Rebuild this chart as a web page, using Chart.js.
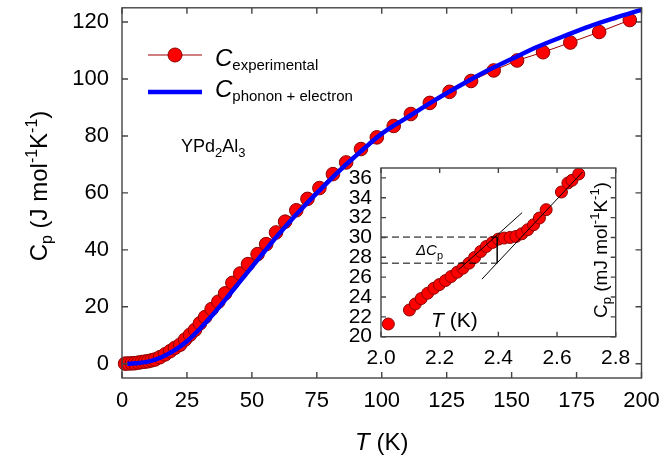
<!DOCTYPE html>
<html>
<head>
<meta charset="utf-8">
<script src="https://cdn.jsdelivr.net/npm/chart.js@4"></script>
<style>
  html, body { margin: 0; padding: 0; background: #fff; }
  #wrap { position: relative; width: 661px; height: 463px; overflow: hidden; }
  #wrap canvas { position: absolute; left: 0; top: 0; }
</style>
</head>
<body>
<div id="wrap">
  <canvas id="main-chart" width="661" height="463"></canvas>
  <canvas id="inset-chart" width="661" height="463"></canvas>
</div>
<script>
// Cp de YPd2Al3: datos experimentales + modelo fonón/electrón, con recuadro a baja T
const FONT = "'Liberation Sans', Arial, sans-serif";

// curva principal (J mol-1 K-1)
const expT = [1.2, 2.5, 3.8, 5, 6.3, 7.6, 8.9, 10.1, 11.4, 12.7, 14.6, 16.6, 18.5, 20.4, 22.4, 24.3,
  26.2, 28.1, 30, 32, 34.5, 37.1, 39.7, 42.5, 45.5, 48.5, 52.2, 55.5, 59.3, 62.8, 67.1, 71.4, 76,
  81.2, 86.3, 92, 98.1, 104.6, 111.2, 118.5, 126.1, 134.4, 143.1, 152.1, 162.1, 172.6, 183.7, 195.5];
const expC = [0.05, 0.1, 0.15, 0.2, 0.4, 0.6, 0.75, 0.9, 1.2, 1.5, 2.3, 3.3, 4.4, 5.6, 6.7, 8.5,
  10.2, 11.9, 14.2, 16.4, 19.2, 21.8, 24.7, 28.4, 31.7, 35, 38.5, 42, 46.1, 49.9, 53.9, 57.9, 61.7,
  66.6, 70.7, 75.4, 79.5, 83.5, 87.7, 91.6, 95.5, 99.3, 103, 106.5, 109.4, 112.8, 116.5, 120.7];

const modelT = [2, 5, 10, 15, 20, 25, 30, 35, 40, 45, 50, 55, 60, 65, 70, 75, 80, 85, 90, 95, 100,
  110, 120, 130, 140, 150, 160, 170, 180, 190, 200];
const modelC = [0, 0.15, 0.75, 2.2, 4.6, 7.9, 12.3, 17.3, 22.8, 28.4, 34.0, 39.6, 45.1, 50.3, 55.2,
  59.9, 64.5, 68.9, 73, 77, 80.8, 86.6, 92.3, 97.6, 102.6, 107, 111.3, 115, 118.5, 121.5, 124.3];

const xTicks = [0, 25, 50, 75, 100, 125, 150, 175, 200];
const yTicks = [0, 20, 40, 60, 80, 100, 120];

// recuadro (mJ mol-1 K-1)
const insetT = [2.025, 2.097, 2.117, 2.137, 2.159, 2.18, 2.199, 2.22, 2.239, 2.26, 2.279, 2.3, 2.319,
  2.34, 2.359, 2.38, 2.4, 2.42, 2.44, 2.46, 2.48, 2.5, 2.52, 2.54, 2.563, 2.615, 2.637, 2.651, 2.674];
const insetC = [21.28, 22.69, 23.3, 23.84, 24.38, 24.88, 25.25, 25.66, 26.06, 26.5, 26.9, 27.41, 27.98,
  28.59, 29.09, 29.5, 29.83, 29.94, 30.0, 30.1, 30.37, 30.78, 31.28, 31.96, 32.8, 34.58, 35.49, 35.76, 36.4];
const tangentLowT = [2.264, 2.481];
const tangentLowC = [26.74, 32.5];
const tangentHighT = [2.344, 2.686];
const tangentHighC = [25.8, 36.57];
const jumpT = 2.396;
const jumpTop = 30.04;
const jumpBottom = 27.41;
const insetXTicks = [2.0, 2.2, 2.4, 2.6, 2.8];
const insetYTicks = [20, 22, 24, 26, 28, 30, 32, 34, 36];

const pts = (xs, ys) => xs.map((x, i) => ({ x: x, y: ys[i] }));

function drawRich(ctx, parts, x, y, align) {
  let w = 0;
  parts.forEach(p => {
    ctx.font = (p.it ? 'italic ' : '') + p.size + 'px ' + FONT;
    p.w = ctx.measureText(p.t).width;
    w += p.w;
  });
  let cx = align === 'center' ? x - w / 2 : x;
  ctx.textBaseline = 'alphabetic';
  ctx.textAlign = 'left';
  parts.forEach(p => {
    ctx.font = (p.it ? 'italic ' : '') + p.size + 'px ' + FONT;
    ctx.fillText(p.t, cx, y + (p.dy || 0));
    cx += p.w;
  });
}

function drawFrame(chart, tickLen) {
  const { ctx, chartArea: a, scales } = chart;
  ctx.save();
  ctx.strokeStyle = '#444';
  ctx.lineWidth = 1.4;
  ctx.strokeRect(a.left, a.top, a.right - a.left, a.bottom - a.top);
  ctx.beginPath();
  scales.x.ticks.forEach(t => {
    const px = scales.x.getPixelForValue(t.value);
    ctx.moveTo(px, a.bottom); ctx.lineTo(px, a.bottom - tickLen);
    ctx.moveTo(px, a.top); ctx.lineTo(px, a.top + tickLen);
  });
  scales.y.ticks.forEach(t => {
    const py = scales.y.getPixelForValue(t.value);
    ctx.moveTo(a.left, py); ctx.lineTo(a.left + tickLen, py);
    ctx.moveTo(a.right, py); ctx.lineTo(a.right - tickLen, py);
  });
  ctx.stroke();
  ctx.restore();
}

// que las etiquetas de los extremos no encojan el area del grafico
const noEdgePad = s => { s.paddingLeft = 0; s.paddingRight = 0; };

const mainDecor = {
  id: 'mainDecor',
  afterDraw(chart) {
    const { ctx, chartArea: a } = chart;
    drawFrame(chart, 6);
    ctx.save();
    ctx.fillStyle = '#000';
    // titulo eje x
    drawRich(ctx, [{ t: 'T', size: 24, it: true }, { t: ' (K)', size: 24 }], (a.left + a.right) / 2, 450, 'center');
    // titulo eje y (rotado)
    ctx.save();
    ctx.translate(47, 186);
    ctx.rotate(-Math.PI / 2);
    drawRich(ctx, [
      { t: 'C', size: 24 }, { t: 'p', size: 16, dy: 5 },
      { t: ' (J mol', size: 24 }, { t: '-1', size: 16, dy: -10 },
      { t: 'K', size: 24 }, { t: '-1', size: 16, dy: -10 },
      { t: ')', size: 24 }
    ], 0, 0, 'center');
    ctx.restore();
    // leyenda
    ctx.strokeStyle = '#a00000';
    ctx.lineWidth = 1.2;
    ctx.beginPath(); ctx.moveTo(148, 55); ctx.lineTo(202, 55); ctx.stroke();
    ctx.beginPath(); ctx.arc(175, 55, 7, 0, Math.PI * 2);
    ctx.fillStyle = '#ff0000'; ctx.fill();
    ctx.strokeStyle = '#8b0000'; ctx.lineWidth = 1; ctx.stroke();
    ctx.strokeStyle = '#0000ff';
    ctx.lineWidth = 4.5;
    ctx.beginPath(); ctx.moveTo(148, 92); ctx.lineTo(202, 92); ctx.stroke();
    ctx.fillStyle = '#000';
    drawRich(ctx, [{ t: 'C', size: 24, it: true }, { t: 'experimental', size: 15, dy: 4 }], 215, 66);
    drawRich(ctx, [{ t: 'C', size: 24, it: true }, { t: 'phonon + electron', size: 15, dy: 4 }], 215, 97);
    // compuesto
    drawRich(ctx, [
      { t: 'YPd', size: 18 }, { t: '2', size: 13, dy: 5 },
      { t: 'Al', size: 18 }, { t: '3', size: 13, dy: 5 }
    ], 181, 152);
    ctx.restore();
  }
};

const insetDecor = {
  id: 'insetDecor',
  afterDraw(chart) {
    const { ctx } = chart;
    drawFrame(chart, 5);
    ctx.save();
    ctx.fillStyle = '#000';
    drawRich(ctx, [{ t: 'T', size: 21, it: true }, { t: ' (K)', size: 21 }], 431, 327);
    drawRich(ctx, [{ t: '\u0394C', size: 15, it: true }, { t: 'p', size: 11, dy: 4 }], 416, 255);
    ctx.save();
    ctx.translate(607, 250);
    ctx.rotate(-Math.PI / 2);
    drawRich(ctx, [
      { t: 'C', size: 19 }, { t: 'p', size: 13, dy: 4 },
      { t: ' (mJ mol', size: 19 }, { t: '-1', size: 13, dy: -8 },
      { t: 'K', size: 19 }, { t: '-1', size: 13, dy: -8 },
      { t: ')', size: 19 }
    ], 0, 0, 'center');
    ctx.restore();
    ctx.restore();
  }
};

new Chart(document.getElementById('main-chart').getContext('2d'), {
  type: 'line',
  data: {
    datasets: [
      {
        label: 'C phonon + electron',
        data: pts(modelT, modelC),
        borderColor: '#0000ff',
        borderWidth: 4.5,
        pointRadius: 0,
        cubicInterpolationMode: 'monotone',
        order: 0
      },
      {
        label: 'C experimental',
        data: pts(expT, expC),
        borderColor: '#a00000',
        borderWidth: 1,
        backgroundColor: '#ff0000',
        pointBackgroundColor: '#ff0000',
        pointBorderColor: '#8b0000',
        pointBorderWidth: 1,
        pointRadius: 6.8,
        clip: false,
        order: 1
      }
    ]
  },
  options: {
    responsive: false,
    devicePixelRatio: 1,
    animation: false,
    layout: { padding: { left: 0, right: 19.5, top: 4, bottom: 0 } },
    plugins: { legend: { display: false }, tooltip: { enabled: false } },
    scales: {
      x: {
        type: 'linear', min: 0, max: 200,
        grid: { display: false, drawTicks: false },
        border: { display: false },
        afterBuildTicks: s => { s.ticks = xTicks.map(v => ({ value: v })); },
        afterFit: s => { s.height = 85; noEdgePad(s); },
        ticks: { font: { family: FONT, size: 22 }, color: '#000', padding: 10, maxRotation: 0, autoSkip: false }
      },
      y: {
        type: 'linear', min: -5, max: 125,
        grid: { display: false, drawTicks: false },
        border: { display: false },
        afterBuildTicks: s => { s.ticks = yTicks.map(v => ({ value: v })); },
        afterFit: s => { s.width = 122; s.paddingTop = 0; s.paddingBottom = 0; },
        ticks: { font: { family: FONT, size: 22 }, color: '#000', padding: 13, autoSkip: false }
      }
    }
  },
  plugins: [mainDecor]
});

const thin = { borderColor: '#000', borderWidth: 1, pointRadius: 0, fill: false };

new Chart(document.getElementById('inset-chart').getContext('2d'), {
  type: 'scatter',
  data: {
    datasets: [
      { data: pts(tangentLowT, tangentLowC), showLine: true, ...thin },
      { data: pts(tangentHighT, tangentHighC), showLine: true, ...thin },
      { data: [{ x: 2.0, y: jumpTop }, { x: jumpT, y: jumpTop }], showLine: true, borderDash: [7, 4], ...thin },
      { data: [{ x: 2.0, y: jumpBottom }, { x: jumpT, y: jumpBottom }], showLine: true, borderDash: [7, 4], ...thin },
      { data: [{ x: jumpT, y: jumpBottom }, { x: jumpT, y: jumpTop }], showLine: true, ...thin, borderWidth: 1.5 },
      {
        data: pts(insetT, insetC),
        showLine: false,
        pointRadius: 6,
        pointBackgroundColor: '#ff0000',
        pointBorderColor: '#8b0000',
        pointBorderWidth: 1,
        order: 10
      }
    ]
  },
  options: {
    responsive: false,
    devicePixelRatio: 1,
    animation: false,
    layout: { padding: { left: 321, right: 45.3, top: 168, bottom: 86.3 } },
    plugins: { legend: { display: false }, tooltip: { enabled: false } },
    scales: {
      x: {
        type: 'linear', min: 2.0, max: 2.8,
        grid: { display: false, drawTicks: false },
        border: { display: false },
        afterBuildTicks: s => { s.ticks = insetXTicks.map(v => ({ value: v })); },
        afterFit: s => { s.height = 40; noEdgePad(s); },
        ticks: { font: { family: FONT, size: 21 }, color: '#000', padding: 9, maxRotation: 0, autoSkip: false,
          callback: v => Number(v).toFixed(1) }
      },
      y: {
        type: 'linear', min: 20, max: 37,
        grid: { display: false, drawTicks: false },
        border: { display: false },
        afterBuildTicks: s => { s.ticks = insetYTicks.map(v => ({ value: v })); },
        afterFit: s => { s.width = 60; s.paddingTop = 0; s.paddingBottom = 0; },
        ticks: { font: { family: FONT, size: 21 }, color: '#000', padding: 9, autoSkip: false }
      }
    }
  },
  plugins: [insetDecor]
});
</script>
</body>
</html>
